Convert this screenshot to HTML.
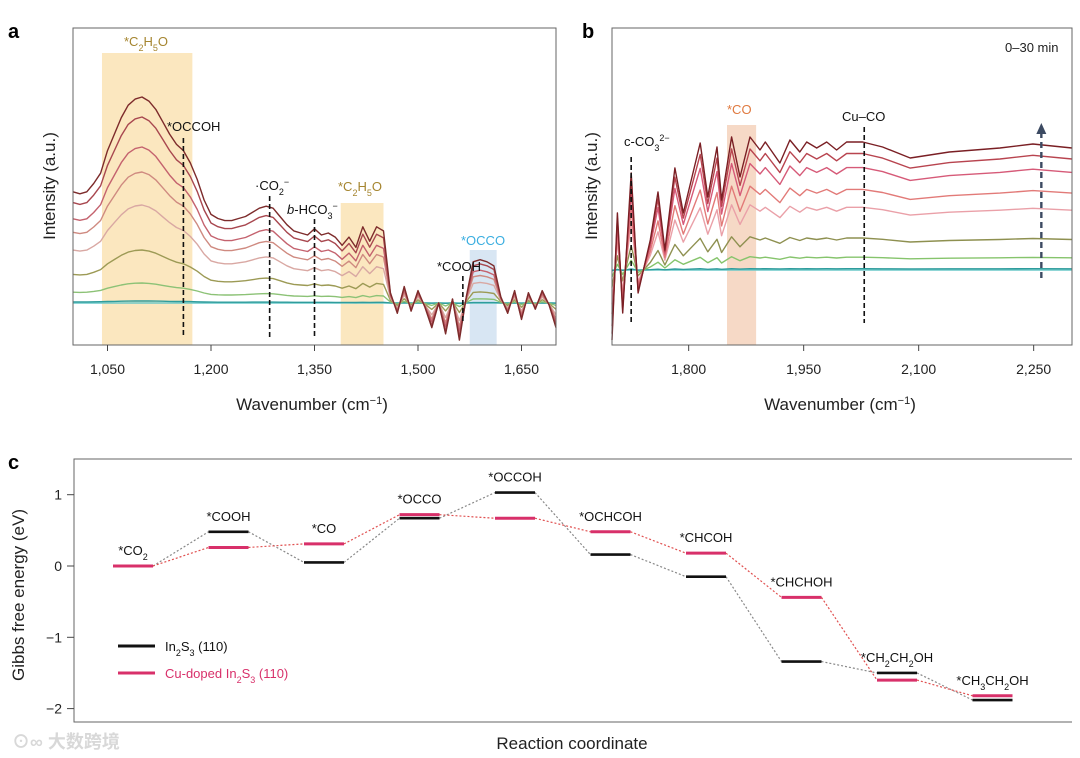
<!DOCTYPE html>
<html><head><meta charset="utf-8">
<style>
html,body{margin:0;padding:0;background:#fff;}
svg{display:block;font-family:"Liberation Sans","Noto Sans CJK SC",sans-serif;}
</style></head>
<body>
<svg id="fig" width="1080" height="758" viewBox="0 0 1080 758" xmlns="http://www.w3.org/2000/svg">
<g id="pa"></g>
<g id="pb"></g>
<g id="pc"></g>
</svg>
<script>
// ---------- Panel a data ----------
const wnA = [1000,1010,1020,1030,1040,1050,1060,1070,1080,1090,1100,1110,1120,1130,1140,1150,1160,1170,1180,1190,1200,1210,1220,1230,1240,1250,1260,1270,1280,1290,1300,1310,1320,1330,1340,1350,1360,1370,1380,1390,1400,1410,1420,1430,1440,1450,1460,1470,1480,1490,1500,1510,1520,1530,1540,1550,1560,1570,1580,1590,1600,1610,1620,1630,1640,1650,1660,1670,1680,1690,1700];
const profA = [.54,.53,.54,.58,.63,.74,.82,.90,.96,.99,1.0,.98,.94,.88,.82,.77,.74,.68,.60,.50,.43,.41,.40,.40,.41,.42,.44,.46,.47,.46,.42,.38,.35,.34,.33,.36,.33,.34,.32,.28,.32,.27,.37,.30,.37,.35,.05,-.05,.08,-.04,.06,-.02,-.12,.0,-.15,.02,-.18,.03,.2,.21,.2,.18,.03,-.05,.06,-.08,.05,-.03,.06,-.01,-.12];
const ampA = [206,186,156,131,98,53,20,2,0];
const colA = ["#7d2b2b","#a8474f","#c4626e","#cf8a80","#d9a8a3","#9c9a55","#8cc276","#2f9c9c","#6cc9c9"];
const ticksA = [1050,1200,1350,1500,1650];
const tickLabA = ["1,050","1,200","1,350","1,500","1,650"];

// ---------- Panel b data ----------
const wnB = [1700,1707,1714,1725,1734,1750,1760,1769,1782,1793,1815,1825,1837,1843,1856,1867,1880,1893,1900,1919,1932,1945,1954,1967,1980,1993,2006,2027,2053,2089,2140,2206,2249,2300];
const profB = [-70,57,-43,97,-23,30,78,20,102,57,127,73,123,70,133,93,133,120,128,107,130,118,128,122,128,120,128,128,123,112,118,122,126,122];
const ampB = [1,.91,.8,.63,.49,.25,.1,.01,0];
const colB = ["#7a1f24","#b8444f","#d65a78","#e27a78","#eaa0a8","#8e9050","#86c46c","#2f9c9c","#6cc9c9"];
const ticksB = [1800,1950,2100,2250];
const tickLabB = ["1,800","1,950","2,100","2,250"];

// ---------- Panel c data ----------
const species = ["*CO<tspan baseline-shift='sub' font-size='9'>2</tspan>","*COOH","*CO","*OCCO","*OCCOH","*OCHCOH","*CHCOH","*CHCHOH","*CH<tspan baseline-shift='sub' font-size='9'>2</tspan>CH<tspan baseline-shift='sub' font-size='9'>2</tspan>OH","*CH<tspan baseline-shift='sub' font-size='9'>3</tspan>CH<tspan baseline-shift='sub' font-size='9'>2</tspan>OH"];
const energyIn2S3 = [0,0.48,0.05,0.67,1.03,0.16,-0.15,-1.34,-1.50,-1.88];
const energyCu = [0,0.26,0.31,0.72,0.67,0.48,0.18,-0.44,-1.60,-1.82];
const ticksC = [1,0,-1,-2];
const tickLabC = ["1","0","\u22121","\u22122"];

const NS="http://www.w3.org/2000/svg";
function mk(parent, tag, attrs, text){
  const e=document.createElementNS(NS,tag);
  for(const k in attrs) e.setAttribute(k,attrs[k]);
  if(text!==undefined) e.innerHTML=text;
  parent.appendChild(e); return e;
}

// ===== Panel a =====
(function(){
  const g=document.getElementById('pa');
  const L=73,R=556,T=28,B=345;
  const xA=w=>L+(w-1000)*(R-L)/700;
  const yA=v=>303-v;
  let t;
  t=mk(g,'text',{x:8,y:38,'font-size':20,'font-weight':'bold'},'a');
   
  // bands
  let r=mk(g,'rect',{x:xA(1042),y:53,width:xA(1173)-xA(1042),height:B-53,fill:'#fbe7bf'});
   
  r=mk(g,'rect',{x:xA(1388),y:203,width:xA(1450)-xA(1388),height:B-203,fill:'#fbe7bf'});
   
  r=mk(g,'rect',{x:xA(1575),y:250,width:xA(1614)-xA(1575),height:B-250,fill:'#d8e6f3'});
   
  // curves (bottom first)
  for(let i=ampA.length-1;i>=0;i--){
    let d='';
    wnA.forEach((w,j)=>{d+=(j?'L':'M')+xA(w).toFixed(1)+','+yA(ampA[i]*profA[j]).toFixed(1);});
    const p=mk(g,'path',{d:d,fill:'none',stroke:colA[i],'stroke-width':1.4,'stroke-linejoin':'round'});
     
  }
  // dashed lines
  [[1160,138],[1285,196],[1350,219],[1565,276]].forEach((a,i)=>{
    const l=mk(g,'line',{x1:xA(a[0]),x2:xA(a[0]),y1:a[1],y2:a[0]==1565?322:337,stroke:'#111','stroke-width':1.6,'stroke-dasharray':'5,3'});
     
  });
  // frame
  const f=mk(g,'rect',{x:L,y:T,width:R-L,height:B-T,fill:'none',stroke:'#666','stroke-width':1});
   
  ticksA.forEach((w,i)=>{
    const tk=mk(g,'line',{x1:xA(w),x2:xA(w),y1:B,y2:B+6,stroke:'#444'});
     
    const tl=mk(g,'text',{x:xA(w),y:374,'font-size':14,'text-anchor':'middle',fill:'#222'},tickLabA[i]);
     
  });
  t=mk(g,'text',{x:312,y:410,'font-size':17,'text-anchor':'middle',fill:'#222'},'Wavenumber (cm<tspan baseline-shift="super" font-size="11">\u22121</tspan>)');
   
  t=mk(g,'text',{x:0,y:0,'font-size':17,'text-anchor':'middle',fill:'#222',transform:'translate(55,186) rotate(-90)'},'Intensity (a.u.)');
   
  const sub=s=>'<tspan baseline-shift="sub" font-size="9">'+s+'</tspan>';
  const sup=s=>'<tspan baseline-shift="super" font-size="9">'+s+'</tspan>';
  [[124,46,'#a5852f','*C'+sub('2')+'H'+sub('5')+'O','c2h5o-label-1'],
   [167,131,'#111','*OCCOH','occoh-label'],
   [255,190,'#111','\u00b7CO'+sub('2')+sup('\u2212'),'co2-label'],
   [287,214,'#111','<tspan font-style="italic">b</tspan>-HCO'+sub('3')+sup('\u2212'),'hco3-label'],
   [338,191,'#a5852f','*C'+sub('2')+'H'+sub('5')+'O','c2h5o-label-2'],
   [461,245,'#3aaee0','*OCCO','occo-label'],
   [437,271,'#111','*COOH','cooh-label-a']].forEach(a=>{
    const tt=mk(g,'text',{x:a[0],y:a[1],'font-size':13,fill:a[2]},a[3]);
     
  });
})();

// ===== Panel b =====
(function(){
  const g=document.getElementById('pb');
  const L=612,R=1072,T=28,B=345;
  const xB=w=>L+(w-1700)*(R-L)/600;
  const yB=v=>270-v;
  let t=mk(g,'text',{x:582,y:38,'font-size':20,'font-weight':'bold'},'b');
   
  let r=mk(g,'rect',{x:xB(1850),y:125,width:xB(1888)-xB(1850),height:B-125,fill:'#f6d9c6'});
   
  for(let i=ampB.length-1;i>=0;i--){
    let d='';
    wnB.forEach((w,j)=>{
      let v=ampB[i]*profB[j];
      if(ampB[i]<0.05) v=Math.max(v,-8);
      d+=(j?'L':'M')+xB(w).toFixed(1)+','+Math.min(B,yB(v)).toFixed(1);
    });
    const p=mk(g,'path',{d:d,fill:'none',stroke:colB[i],'stroke-width':1.4,'stroke-linejoin':'round'});
     
  }
  [[1725,157],[2029,127]].forEach((a,i)=>{
    const l=mk(g,'line',{x1:xB(a[0]),x2:xB(a[0]),y1:a[1],y2:323,stroke:'#111','stroke-width':1.6,'stroke-dasharray':'5,3'});
     
  });
  const ar=mk(g,'line',{x1:xB(2260),x2:xB(2260),y1:278,y2:130,stroke:'#3c4a62','stroke-width':2.4,'stroke-dasharray':'6,4'});
   
  const ah=mk(g,'path',{d:`M${xB(2260)-5},134 L${xB(2260)},123 L${xB(2260)+5},134 Z`,fill:'#3c4a62'});
   
  const f=mk(g,'rect',{x:L,y:T,width:R-L,height:B-T,fill:'none',stroke:'#666','stroke-width':1});
   
  ticksB.forEach((w,i)=>{
    const tk=mk(g,'line',{x1:xB(w),x2:xB(w),y1:B,y2:B+6,stroke:'#444'});
     
    const tl=mk(g,'text',{x:xB(w),y:374,'font-size':14,'text-anchor':'middle',fill:'#222'},tickLabB[i]);
     
  });
  t=mk(g,'text',{x:840,y:410,'font-size':17,'text-anchor':'middle',fill:'#222'},'Wavenumber (cm<tspan baseline-shift="super" font-size="11">\u22121</tspan>)');
   
  t=mk(g,'text',{x:0,y:0,'font-size':17,'text-anchor':'middle',fill:'#222',transform:'translate(597,186) rotate(-90)'},'Intensity (a.u.)');
   
  [[1005,52,'#222','0\u201330 min','time-range-label'],
   [624,146,'#111','c-CO<tspan baseline-shift="sub" font-size="9">3</tspan><tspan baseline-shift="super" font-size="9">2\u2212</tspan>','carbonate-label'],
   [727,114,'#e07a40','*CO','co-label'],
   [842,121,'#111','Cu\u2013CO','cu-co-label']].forEach(a=>{
    const tt=mk(g,'text',{x:a[0],y:a[1],'font-size':13,fill:a[2]},a[3]);
     
  });
})();

// ===== Panel c =====
(function(){
  const g=document.getElementById('pc');
  const L=74,R=1072,T=459,B=722;
  const yC=v=>566-v*71.3;
  const xC=i=>133+i*95.5;
  const hw=20;
  let t=mk(g,'text',{x:8,y:469,'font-size':20,'font-weight':'bold'},'c');
   
  const ax=mk(g,'path',{d:`M${R},${T} L${L},${T} L${L},${B} L${R},${B}`,fill:'none',stroke:'#666','stroke-width':1});
   
  ticksC.forEach((v,i)=>{
    const tk=mk(g,'line',{x1:L-7,x2:L,y1:yC(v),y2:yC(v),stroke:'#444'});
     
    const tl=mk(g,'text',{x:L-12,y:yC(v)+5,'font-size':14,'text-anchor':'end',fill:'#222'},tickLabC[i]);
     
  });
  function series(vals,col,conn,w,nm){
    for(let i=0;i<vals.length-1;i++){
      const c=mk(g,'line',{x1:xC(i)+hw,y1:yC(vals[i]),x2:xC(i+1)-hw,y2:yC(vals[i+1]),stroke:conn,'stroke-width':1.2,'stroke-dasharray':'2,2'});
       
    }
    vals.forEach((v,i)=>{
      const b=mk(g,'line',{x1:xC(i)-hw,x2:xC(i)+hw,y1:yC(v),y2:yC(v),stroke:col,'stroke-width':w});
       
    });
  }
  series(energyIn2S3,'#111','#888',2.6,'in2s3');
  series(energyCu,'#d8306a','#e05050',3,'cu-doped');
  species.forEach((s,i)=>{
    const top=Math.max(energyIn2S3[i],energyCu[i]);
    const tt=mk(g,'text',{x:xC(i),y:yC(top)-11,'font-size':13,'text-anchor':'middle',fill:'#111'},s);
     
  });
  let l=mk(g,'line',{x1:118,x2:155,y1:646,y2:646,stroke:'#111','stroke-width':3});
   
  t=mk(g,'text',{x:165,y:651,'font-size':13,fill:'#111'},'In<tspan baseline-shift="sub" font-size="9">2</tspan>S<tspan baseline-shift="sub" font-size="9">3</tspan> (110)');
   
  l=mk(g,'line',{x1:118,x2:155,y1:673,y2:673,stroke:'#d8306a','stroke-width':3});
   
  t=mk(g,'text',{x:165,y:678,'font-size':13,fill:'#d8306a'},'Cu-doped In<tspan baseline-shift="sub" font-size="9">2</tspan>S<tspan baseline-shift="sub" font-size="9">3</tspan> (110)');
   
  t=mk(g,'text',{x:572,y:749,'font-size':17,'text-anchor':'middle',fill:'#222'},'Reaction coordinate');
   
  t=mk(g,'text',{x:0,y:0,'font-size':17,'text-anchor':'middle',fill:'#222',transform:'translate(24,595) rotate(-90)'},'Gibbs free energy (eV)');
   
  t=mk(g,'text',{x:12,y:748,'font-size':18,fill:'#d8d8d8','font-weight':'bold'},'\u2299\u221e 大数跨境');
   
})();
</script>
</body></html>
